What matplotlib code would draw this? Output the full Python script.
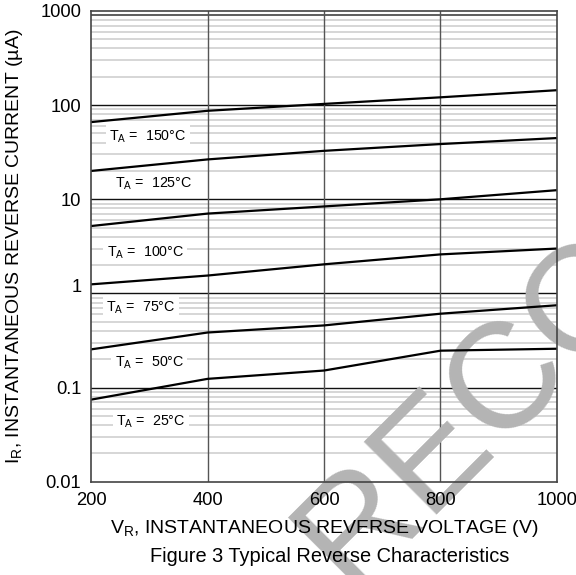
import matplotlib
matplotlib.use('Agg')
import matplotlib.pyplot as plt
import matplotlib.ticker as ticker
import matplotlib.transforms as mtrans

plt.rcParams['font.family'] = ['Liberation Sans', 'DejaVu Sans']
plt.rcParams['mathtext.fontset'] = 'custom'
plt.rcParams['mathtext.rm'] = 'Liberation Sans'

# reverse current (uA)
voltage = [200, 400, 600, 800, 1000]
i_150 = [66, 87, 103, 121, 144]
i_125 = [20, 26.5, 32.7, 38.6, 44.7]
i_100 = [5.2, 7.05, 8.4, 10.0, 12.5]
i_75 = [1.25, 1.55, 2.04, 2.6, 3.0]
i_50 = [0.255, 0.385, 0.458, 0.61, 0.75]
i_25 = [0.0746, 0.124, 0.152, 0.247, 0.259]

curve_names = ['150', '125', '100', '75', '50', '25']
# label positions (V, uA)
label_x = [298, 308, 293, 286, 300, 303]
label_y = [46.2, 14.7, 2.72, 0.71, 0.185, 0.0429]

y_ticks = [0.01, 0.1, 1, 10, 100, 1000]
y_tick_labels = ['0.01', '0.1', '1', '10', '100', '1000']
x_ticks = [200, 400, 600, 800, 1000]

fig = plt.figure(figsize=(5.76, 5.75), dpi=100)
ax = fig.add_axes([0.158, 0.162, 0.809, 0.819])
ax.set_facecolor('none')
ax.set_yscale('log')
ax.set_xlim(200, 1000)
ax.set_ylim(0.01, 1000)

# grid drawn by hand so the watermark can sit between grid and curves
for dec in [0.01, 0.1, 1, 10, 100]:
    for m in range(2, 10):
        v = dec * m
        col = '#cccccc'
        if v == 900:
            col = '#333333'
        ax.axhline(v, color=col, lw=1.1, zorder=0.6)
for v in [0.1, 1, 10, 100]:
    ax.axhline(v, color='#111111', lw=1.0, zorder=0.7)
for v in [400, 600, 800]:
    ax.axvline(v, color='#555555', lw=1.0, zorder=0.7)

# watermark
ax.text(0.606, -0.026, 'RECOMMENDED', transform=fig.transFigure, rotation=45,
        rotation_mode='anchor', ha='left', va='baseline', fontsize=108,
        color='#b4b4b4', zorder=1, clip_on=False)

for series in [i_150, i_125, i_100, i_75, i_50, i_25]:
    ax.plot(voltage, series, color='black', lw=1.6, zorder=2, solid_capstyle='butt')

for name, lx, ly in zip(curve_names, label_x, label_y):
    ax.text(lx, ly, 'T$_\\mathregular{A}$ =  ' + name + '°C', fontsize=10.3,
            ha='center', va='center', zorder=3,
            bbox=dict(facecolor='white', edgecolor='none', pad=2.5))

ax.set_xticks(x_ticks)
ax.yaxis.set_major_locator(ticker.FixedLocator(y_ticks))
ax.yaxis.set_major_formatter(ticker.FixedFormatter(y_tick_labels))
ax.yaxis.set_minor_locator(ticker.NullLocator())
ax.tick_params(length=0, pad=7, labelsize=13.2)

# the "1" label sits a little high in the original
t1 = ax.yaxis.get_major_ticks()[2]
t1.label1.set_transform(t1.label1.get_transform() +
                        mtrans.ScaledTranslation(0, 0.08, fig.dpi_scale_trans))

for s in ax.spines.values():
    s.set_color('#444444')
    s.set_linewidth(1.2)

ax.set_xlabel('V$_\\mathregular{R}$, INSTANTANEOUS REVERSE VOLTAGE (V)', fontsize=14)
ax.xaxis.set_label_coords(0.5, -0.076)
ax.set_ylabel('I$_\\mathregular{R}$, INSTANTANEOUS REVERSE CURRENT (µA)', fontsize=14)
ax.yaxis.set_label_coords(-0.142, 0.5)

fig.text(0.572, 1 - 556 / 575, 'Figure 3 Typical Reverse Characteristics',
         ha='center', va='center', fontsize=14.4)

fig.savefig('out.png', dpi=100)
